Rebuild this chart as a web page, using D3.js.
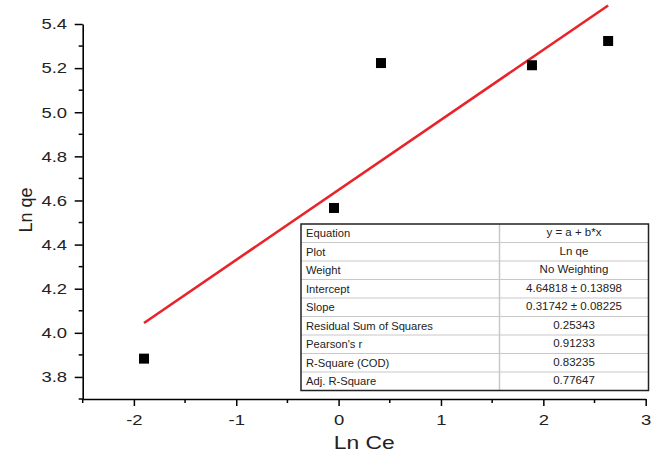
<!DOCTYPE html>
<html>
<head>
<meta charset="utf-8">
<script src="https://cdn.jsdelivr.net/npm/d3@7"></script>
<style>
  html, body { margin: 0; padding: 0; background: #fff; }
  svg { display: block; }
  .stretch { transform-box: fill-box; transform-origin: center; }
</style>
</head>
<body>
<svg id="chart" width="656" height="454"></svg>
<script>
// ---- data ----
const lnCe = [-1.901, -0.045, 0.414, 1.889, 2.633];
const lnQe = [3.883, 4.566, 5.223, 5.213, 5.323];
const intercept = [4.64818];
const slope = [0.31742];
const xTickValues = [-2, -1, 0, 1, 2, 3];
const yTickValues = [3.8, 4.0, 4.2, 4.4, 4.6, 4.8, 5.0, 5.2, 5.4];
const tableLabels = ["Equation", "Plot", "Weight", "Intercept", "Slope",
  "Residual Sum of Squares", "Pearson's r", "R-Square (COD)", "Adj. R-Square"];
const tableValues = ["y = a + b*x", "Ln qe", "No Weighting", "4.64818 \u00b1 0.13898",
  "0.31742 \u00b1 0.08225", "0.25343", "0.91233", "0.83235", "0.77647"];
const xLabel = "Ln Ce";
const yLabel = "Ln qe";

// ---- layout ----
const svg = d3.select("#chart");
const x = d3.scaleLinear().domain([-2.5, 3]).range([82.7, 645.7]);
const y = d3.scaleLinear().domain([3.7, 5.4]).range([399, 24]);
const font = "'Liberation Sans', Arial, sans-serif";

// minor ticks
const xMinor = d3.range(-2.5, 3.01, 0.5).filter(v => Math.abs(v - Math.round(v)) > 1e-6);
const yMinor = d3.range(3.7, 5.41, 0.1).filter(v => !yTickValues.some(t => Math.abs(t - v) < 1e-6));

// bottom axis
const gx = svg.append("g").attr("transform", `translate(0,${y.range()[0]})`);
gx.call(d3.axisBottom(x).tickValues(xTickValues).tickSize(7).tickPadding(8)
  .tickSizeOuter(0).tickFormat(d3.format("d")));
gx.append("g").selectAll("line").data(xMinor).join("line")
  .attr("x1", d => x(d)).attr("x2", d => x(d)).attr("y1", 0).attr("y2", 4)
  .attr("stroke", "#000").attr("stroke-width", 1.5);

// left axis
const gy = svg.append("g").attr("transform", `translate(${x.range()[0]},0)`);
gy.call(d3.axisLeft(y).tickValues(yTickValues).tickSize(8).tickPadding(10)
  .tickSizeOuter(0).tickFormat(d3.format(".1f")));
gy.append("g").selectAll("line").data(yMinor).join("line")
  .attr("y1", d => y(d)).attr("y2", d => y(d)).attr("x1", 0).attr("x2", -4)
  .attr("stroke", "#000").attr("stroke-width", 1.5);

[gx, gy].forEach(g => {
  g.select(".domain").attr("stroke", "#000").attr("stroke-width", 1.6);
  g.selectAll(".tick line").attr("stroke", "#000").attr("stroke-width", 1.5);
  g.selectAll(".tick text")
    .attr("font-family", font).attr("font-size", 15).attr("fill", "#222")
    .attr("class", "stretch").style("transform", "scaleX(1.23)");
});
gx.selectAll(".tick text").text(d => d < 0 ? "-" + Math.abs(d) : d);

// axis titles
svg.append("text")
  .attr("x", (x.range()[0] + x.range()[1]) / 2).attr("y", 449)
  .attr("text-anchor", "middle").attr("font-family", font).attr("font-size", 18)
  .attr("fill", "#222").attr("class", "stretch").style("transform", "scaleX(1.27)")
  .text(xLabel);
svg.append("text")
  .attr("transform", `translate(31.5,210) rotate(-90)`)
  .attr("text-anchor", "middle").attr("font-family", font).attr("font-size", 18)
  .attr("fill", "#222").text(yLabel);

// fit line
const xExt = d3.extent(lnCe);
svg.append("line")
  .attr("x1", x(xExt[0])).attr("y1", y(intercept[0] + slope[0] * xExt[0]))
  .attr("x2", x(xExt[1])).attr("y2", y(intercept[0] + slope[0] * xExt[1]))
  .attr("stroke", "#e8242a").attr("stroke-width", 2.6);

// points
const ms = 10;
svg.append("g").selectAll("rect").data(lnCe.map((d, i) => [d, lnQe[i]])).join("rect")
  .attr("x", d => x(d[0]) - ms / 2).attr("y", d => y(d[1]) - ms / 2)
  .attr("width", ms).attr("height", ms).attr("fill", "#000");

// table
const tX0 = 301, tX1 = 648.5, tXm = 499.5, tY0 = 224, rowH = 18.5;
const tY1 = tY0 + rowH * tableLabels.length;
const tg = svg.append("g");
tg.append("rect").attr("x", tX0).attr("y", tY0).attr("width", tX1 - tX0).attr("height", tY1 - tY0)
  .attr("fill", "#fff").attr("stroke", "none");
tg.selectAll("line.h").data(d3.range(1, tableLabels.length)).join("line")
  .attr("class", "h").attr("x1", tX0).attr("x2", tX1)
  .attr("y1", i => tY0 + i * rowH).attr("y2", i => tY0 + i * rowH)
  .attr("stroke", "#c8c8c8").attr("stroke-width", 1);
tg.append("line").attr("x1", tXm).attr("x2", tXm).attr("y1", tY0).attr("y2", tY1)
  .attr("stroke", "#c8c8c8").attr("stroke-width", 1.5);
tg.append("rect").attr("x", tX0).attr("y", tY0).attr("width", tX1 - tX0).attr("height", tY1 - tY0)
  .attr("fill", "none").attr("stroke", "#222").attr("stroke-width", 1.5);
tg.selectAll("text.l").data(tableLabels).join("text").attr("class", "l")
  .attr("x", tX0 + 5).attr("y", (d, i) => tY0 + i * rowH + rowH / 2 + 4)
  .attr("font-family", font).attr("font-size", 11.2).attr("fill", "#222").text(d => d);
tg.selectAll("text.v").data(tableValues).join("text").attr("class", "v")
  .attr("x", (tXm + tX1) / 2).attr("y", (d, i) => tY0 + i * rowH + rowH / 2 + 3)
  .attr("text-anchor", "middle")
  .attr("font-family", font).attr("font-size", 11.5).attr("fill", "#222").text(d => d);
</script>
</body>
</html>
